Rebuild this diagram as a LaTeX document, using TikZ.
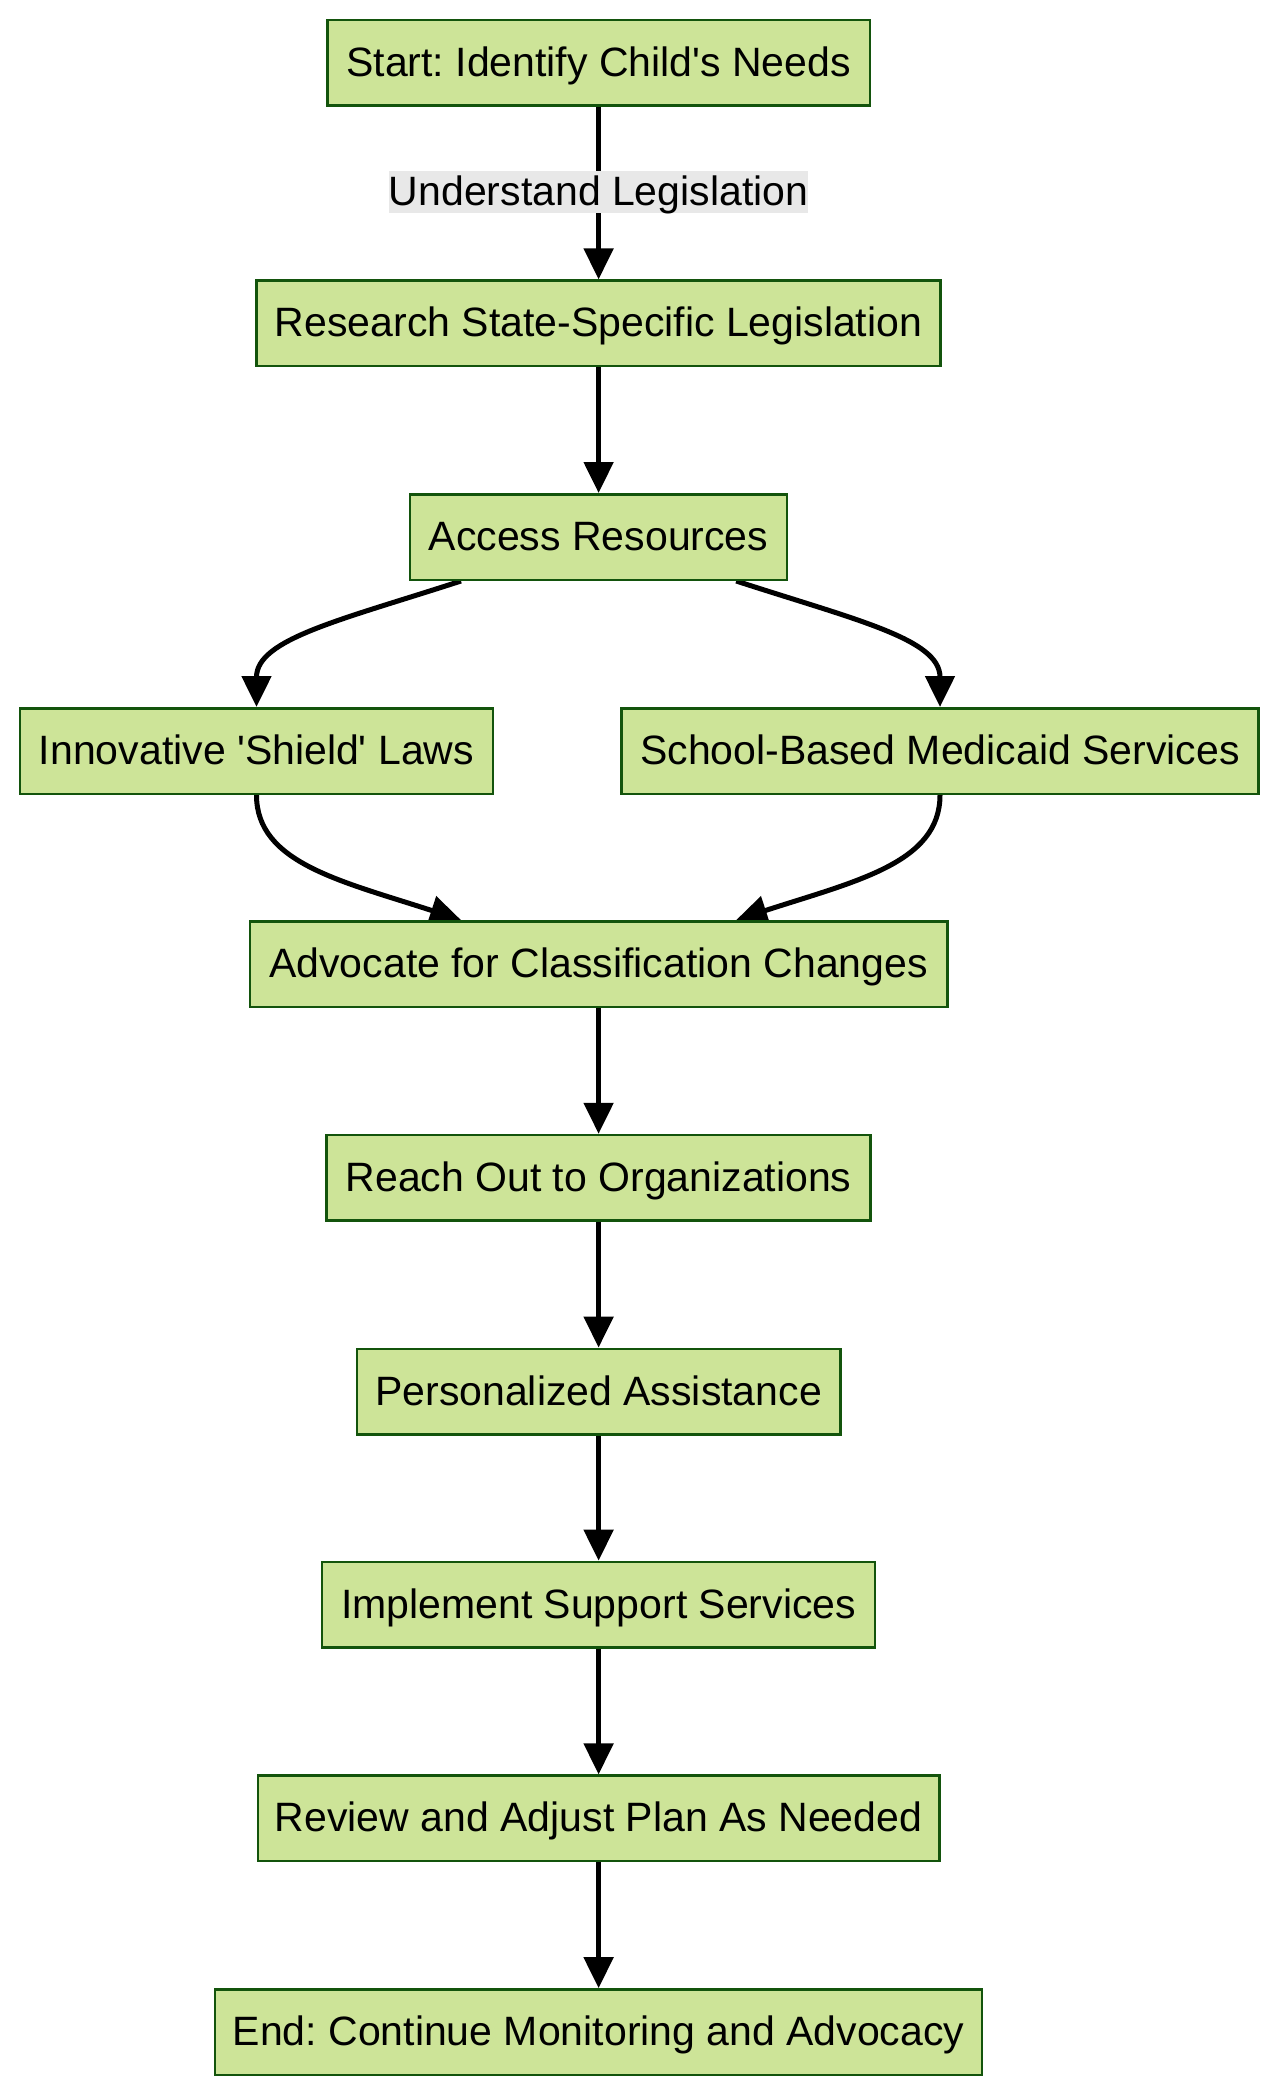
\documentclass[tikz,border=0pt]{standalone}
\usepackage{fontspec}
\setmainfont{Liberation Sans}
\usetikzlibrary{arrows.meta,calc}
\definecolor{fillC}{HTML}{CDE498}
\definecolor{strokeC}{HTML}{13540C}
\definecolor{labelC}{HTML}{E8E8E8}
\pgfdeclarelayer{bg}
\pgfsetlayers{bg,main}
\frenchspacing
\begin{document}
\begin{tikzpicture}[x=1pt,y=-1pt,
  box/.style={draw=strokeC, fill=fillC, line width=2.5pt, minimum height=85.5pt, inner sep=0pt, text height=36pt, text depth=9pt, font=\fontsize{41}{49}\selectfont},
  conn/.style={line width=5pt, draw=black, -{Triangle[length=31pt,width=29pt]}},
  elabel/.style={fill=labelC, inner sep=0pt, minimum height=42pt, text height=33pt, text depth=6pt, font=\fontsize{41}{49}\selectfont}]
\useasboundingbox (0,0) rectangle (1280,2096);
\node[box, minimum width=542.5pt] (start) at (598.6,62.8) {Start: Identify Child\textquotesingle s Needs};
\node[box, minimum width=684pt] (research) at (598.6,323.4) {Research State-Specific Legislation};
\node[box, minimum width=376.8pt] (access) at (598.6,537) {Access Resources};
\node[box, minimum width=473pt] (shield) at (256.5,751) {Innovative \textquotesingle Shield\textquotesingle{} Laws};
\node[box, minimum width=637.3pt] (school) at (940,751) {School-Based Medicaid Services};
\node[box, minimum width=697.4pt] (advocate) at (598.6,964) {Advocate for Classification Changes};
\node[box, minimum width=543.8pt] (reach) at (598.6,1177.8) {Reach Out to Organizations};
\node[box, minimum width=483.7pt] (personal) at (598.6,1391.6) {Personalized Assistance};
\node[box, minimum width=553.1pt] (implement) at (598.6,1604.7) {Implement Support Services};
\node[box, minimum width=681.4pt] (review) at (598.6,1818.4) {Review and Adjust Plan As Needed};
\node[box, minimum width=766.9pt] (end) at (598.6,2032.2) {End: Continue Monitoring and Advocacy};
\node[elabel] (lbl) at (598.6,191.5) {Understand Legislation};
\begin{pgfonlayer}{bg}
\draw[conn] (start.south) -- (research.north);
\draw[conn] (research.south) -- (access.north);
\draw[conn] ([xshift=-137.6pt]access.south) .. controls ($([xshift=-137.6pt]access.south)+(-120,39)$) and ($(shield.north)+(0,-68)$) .. (shield.north);
\draw[conn] ([xshift=137.6pt]access.south) .. controls ($([xshift=137.6pt]access.south)+(120,39)$) and ($(school.north)+(0,-68)$) .. (school.north);
\draw[conn] (shield.south) .. controls ($(shield.south)+(0,68)$) and ($([xshift=-137.6pt]advocate.north)+(-120,-39)$) .. ([xshift=-137.6pt]advocate.north);
\draw[conn] (school.south) .. controls ($(school.south)+(0,68)$) and ($([xshift=137.6pt]advocate.north)+(120,-39)$) .. ([xshift=137.6pt]advocate.north);
\draw[conn] (advocate.south) -- (reach.north);
\draw[conn] (reach.south) -- (personal.north);
\draw[conn] (personal.south) -- (implement.north);
\draw[conn] (implement.south) -- (review.north);
\draw[conn] (review.south) -- (end.north);
\end{pgfonlayer}
\end{tikzpicture}
\end{document}
